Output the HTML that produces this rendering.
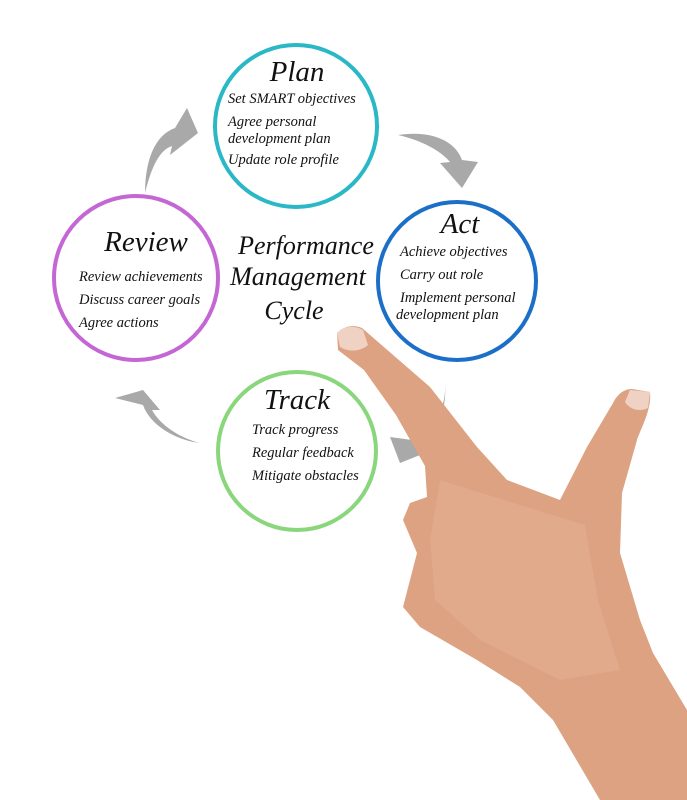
<!DOCTYPE html>
<html><head><meta charset="utf-8"><style>
html,body{margin:0;padding:0;background:#fff;}
svg{display:block;}
text{font-family:"Liberation Serif",serif;font-style:italic;fill:#111;}
.t{font-size:29px;text-anchor:middle;}
.b{font-size:14.5px;}
.c{font-size:26px;text-anchor:middle;}
</style></head><body>
<svg width="687" height="800" viewBox="0 0 687 800" xmlns="http://www.w3.org/2000/svg">
<rect width="687" height="800" fill="#fff"/>
<g fill="#a9a9a9">
<path d="M145,193 C145,160 155,135 175,128 L187,108 L198,133 L170,155 L172,146 C160,150 152,165 145,193 Z"/>
<path d="M398,135 C430,130 455,140 462,160 L478,162 L462,188 L440,163 L450,162 C440,150 420,140 398,135 Z"/>
<path d="M445,382 C447,410 432,430 412,440 L390,437 L400,463 L420,455 L418,448 C438,435 447,410 445,382 Z"/>
<path d="M200,443 C175,440 150,425 143,405 L115,398 L143,390 L160,410 L152,410 C160,425 180,438 200,443 Z"/>
</g>
<circle cx="296" cy="126" r="81" fill="none" stroke="#2ab7c6" stroke-width="4"/>
<circle cx="457" cy="281" r="79" fill="none" stroke="#1c6fc9" stroke-width="4"/>
<circle cx="297" cy="451" r="79" fill="none" stroke="#8ad67c" stroke-width="4"/>
<circle cx="136" cy="278" r="82" fill="none" stroke="#c466d4" stroke-width="4"/>
<text class="t" x="297" y="81">Plan</text>
<text class="b" x="228" y="103">Set SMART objectives</text>
<text class="b" x="228" y="126">Agree personal</text>
<text class="b" x="228" y="143">development plan</text>
<text class="b" x="228" y="164">Update role profile</text>
<text class="t" x="146" y="251">Review</text>
<text class="b" x="79" y="281">Review achievements</text>
<text class="b" x="79" y="304">Discuss career goals</text>
<text class="b" x="79" y="327">Agree actions</text>
<text class="c" x="306" y="254">Performance</text>
<text class="c" x="298" y="285">Management</text>
<text class="c" x="294" y="319">Cycle</text>
<text class="t" x="460" y="233">Act</text>
<text class="b" x="400" y="256">Achieve objectives</text>
<text class="b" x="400" y="279">Carry out role</text>
<text class="b" x="400" y="302">Implement personal</text>
<text class="b" x="396" y="319">development plan</text>
<text class="t" x="297" y="409">Track</text>
<text class="b" x="252" y="434">Track progress</text>
<text class="b" x="252" y="457">Regular feedback</text>
<text class="b" x="252" y="480">Mitigate obstacles</text>
<path fill="#dca282" d="M337,333 C345,325 355,325 362,328 L430,387 L477,447 L507,480 L560,500 L587,447 L613,403 C618,393 625,389 632,389 L650,392 C652,410 640,430 637,440 L622,493 L620,553 L640,620 L653,653 L687,710 L687,800 L600,800 L553,720 L520,687 L477,660 L420,627 L403,607 L410,580 L417,553 L403,520 L410,503 L427,497 L425,466 L396,415 L364,370 L338,350 Z"/>
<path fill="#e6b396" opacity="0.45" d="M440,480 L520,505 L585,525 L598,600 L620,670 L560,680 L480,640 L435,600 L430,540 Z"/>
<path fill="#f0d2c4" d="M337,333 C343,326 355,325 363,330 L368,345 C360,352 348,352 340,347 Z"/>
<path fill="#f0d2c4" d="M630,390 L650,392 L648,408 C640,412 630,410 625,402 Z"/>
</svg>
</body></html>
